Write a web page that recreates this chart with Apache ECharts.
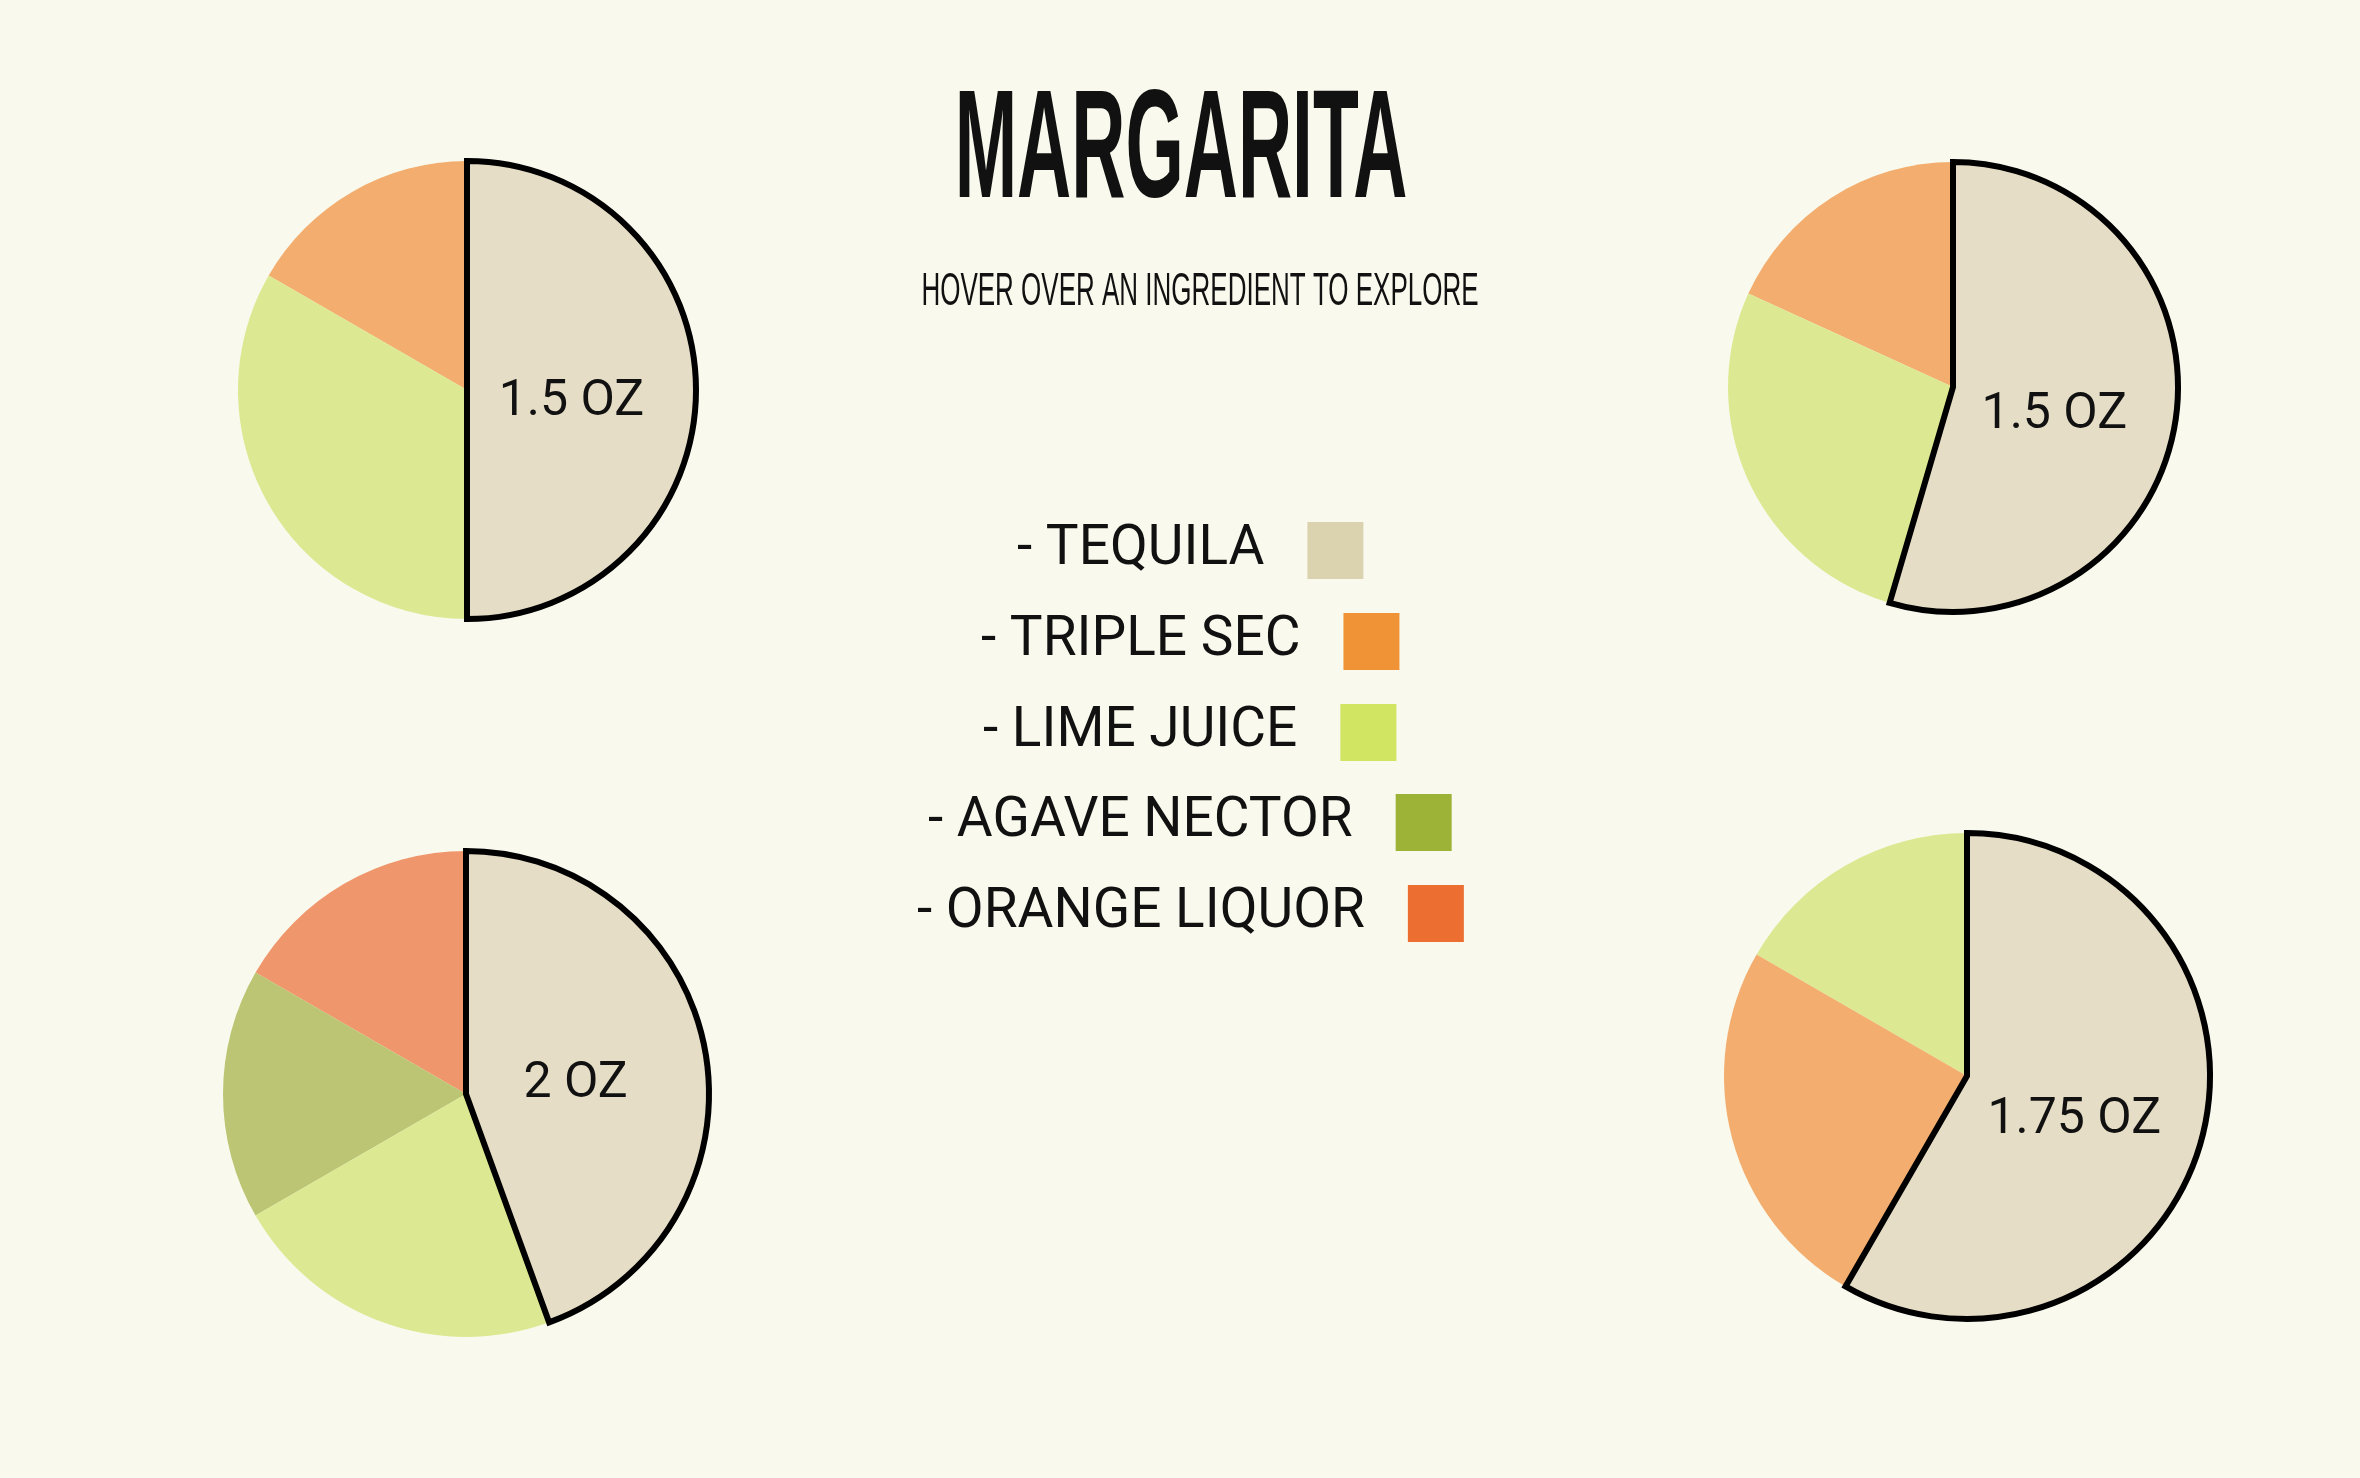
<!DOCTYPE html>
<html>
<head>
<meta charset="utf-8">
<title>Margarita</title>
<script src="https://cdn.jsdelivr.net/npm/echarts@6/dist/echarts.min.js"></script>
<style>
  html, body { margin: 0; padding: 0; background: #f9faed; }
  #chart { width: 2360px; height: 1478px; }
</style>
</head>
<body>
<div id="chart"></div>
<script>
// ---- data ----
const ingredients = ['Tequila', 'Triple Sec', 'Lime Juice', 'Agave Nector', 'Orange Liquor'];
const legendColors = ['#dbd2b0', '#f09336', '#d1e562', '#9db338', '#ec6e30'];
const sliceColors = ['#e6ddc6', '#f3ad6e', '#dce992', '#bcc573', '#f0966c'];

// each recipe listed clockwise from 12 o'clock
const recipe1Names = ['Tequila', 'Lime Juice', 'Triple Sec'];
const recipe1Values = [1.5, 1, 0.5];
const recipe2Names = ['Tequila', 'Lime Juice', 'Triple Sec'];
const recipe2Values = [1.5, 0.75, 0.5];
const recipe3Names = ['Tequila', 'Lime Juice', 'Agave Nector', 'Orange Liquor'];
const recipe3Values = [2, 1, 0.75, 0.75];
const recipe4Names = ['Tequila', 'Triple Sec', 'Lime Juice'];
const recipe4Values = [1.75, 0.75, 0.5];

const titleText = 'MARGARITA';
const subtitleText = 'HOVER OVER AN INGREDIENT TO EXPLORE';

// ---- layout ----
const pieLayout = [
  { center: [467, 390], radius: 229 },
  { center: [1953, 387], radius: 225 },
  { center: [466, 1094], radius: 243 },
  { center: [1967, 1076], radius: 243 }
];
const legendTops = [522, 613, 704, 794, 885];
const legendCenterX = 1190;
const FONT = 'Roboto';
const LEGEND_FONT_SIZE = 55;
const LEGEND_TEXT_GAP = 38;

function buildData(names, values) {
  // reversed + counter-clockwise drawing keeps the same layout but paints Tequila last
  return names.map((n, i) => {
    const idx = ingredients.indexOf(n);
    const isHero = n === 'Tequila';
    return {
      name: n,
      value: values[i],
      itemStyle: isHero
        ? { color: sliceColors[idx], borderColor: '#000', borderWidth: 6, borderJoin: 'miter' }
        : { color: sliceColors[idx], borderWidth: 0 },
      label: { show: isHero }
    };
  }).reverse();
}

const recipes = [
  [recipe1Names, recipe1Values],
  [recipe2Names, recipe2Values],
  [recipe3Names, recipe3Values],
  [recipe4Names, recipe4Values]
];

const series = recipes.map((r, k) => ({
  type: 'pie',
  name: 'Recipe ' + (k + 1),
  center: pieLayout[k].center,
  radius: [0, pieLayout[k].radius],
  startAngle: 90,
  clockwise: false,
  avoidLabelOverlap: false,
  label: {
    position: 'inside',
    formatter: p => p.value + ' OZ',
    fontFamily: FONT,
    fontSize: 50,
    color: '#111',
    offset: [-13, 12]
  },
  labelLine: { show: false },
  emphasis: { scale: true, scaleSize: 6 },
  data: buildData(r[0], r[1])
}));

// measure legend rows so each one can be centred on legendCenterX
const measureCtx = document.createElement('canvas').getContext('2d');
measureCtx.font = LEGEND_FONT_SIZE + 'px ' + FONT;
const legendLabel = name => '- ' + name.toUpperCase();

const legends = ingredients.map((n, i) => {
  const rowWidth = measureCtx.measureText(legendLabel(n)).width + LEGEND_TEXT_GAP + 5 + 56;
  return {
    show: true,
    left: Math.round(legendCenterX - rowWidth / 2),
    top: legendTops[i],
    padding: 0,
    align: 'right',
    orient: 'horizontal',
    itemWidth: 56,
    itemHeight: 57,
    icon: 'rect',
    selectedMode: false,
    data: [{ name: n, itemStyle: { color: legendColors[i], borderWidth: 0, opacity: 1 } }],
    formatter: legendLabel,
    textStyle: {
      fontFamily: FONT,
      fontSize: LEGEND_FONT_SIZE,
      color: '#111',
      padding: [0, LEGEND_TEXT_GAP, 0, 0]
    }
  };
});

const chart = echarts.init(document.getElementById('chart'), null, { renderer: 'canvas' });
chart.setOption({
  backgroundColor: '#f9faed',
  animation: false,
  tooltip: { show: true },
  legend: legends,
  graphic: [
    {
      type: 'text',
      x: 1181, y: 155,
      scaleY: 2.05,
      style: {
        text: titleText,
        x: 0, y: 0,
        align: 'center',
        verticalAlign: 'middle',
        font: 'bold 75px "Liberation Sans"',
        fill: '#111'
      }
    },
    {
      type: 'text',
      x: 1200, y: 292,
      scaleY: 1.75,
      style: {
        text: subtitleText,
        x: 0, y: 0,
        align: 'center',
        verticalAlign: 'middle',
        font: '26px "Liberation Sans"',
        fill: '#111'
      }
    }
  ],
  series: series
});
</script>
</body>
</html>
